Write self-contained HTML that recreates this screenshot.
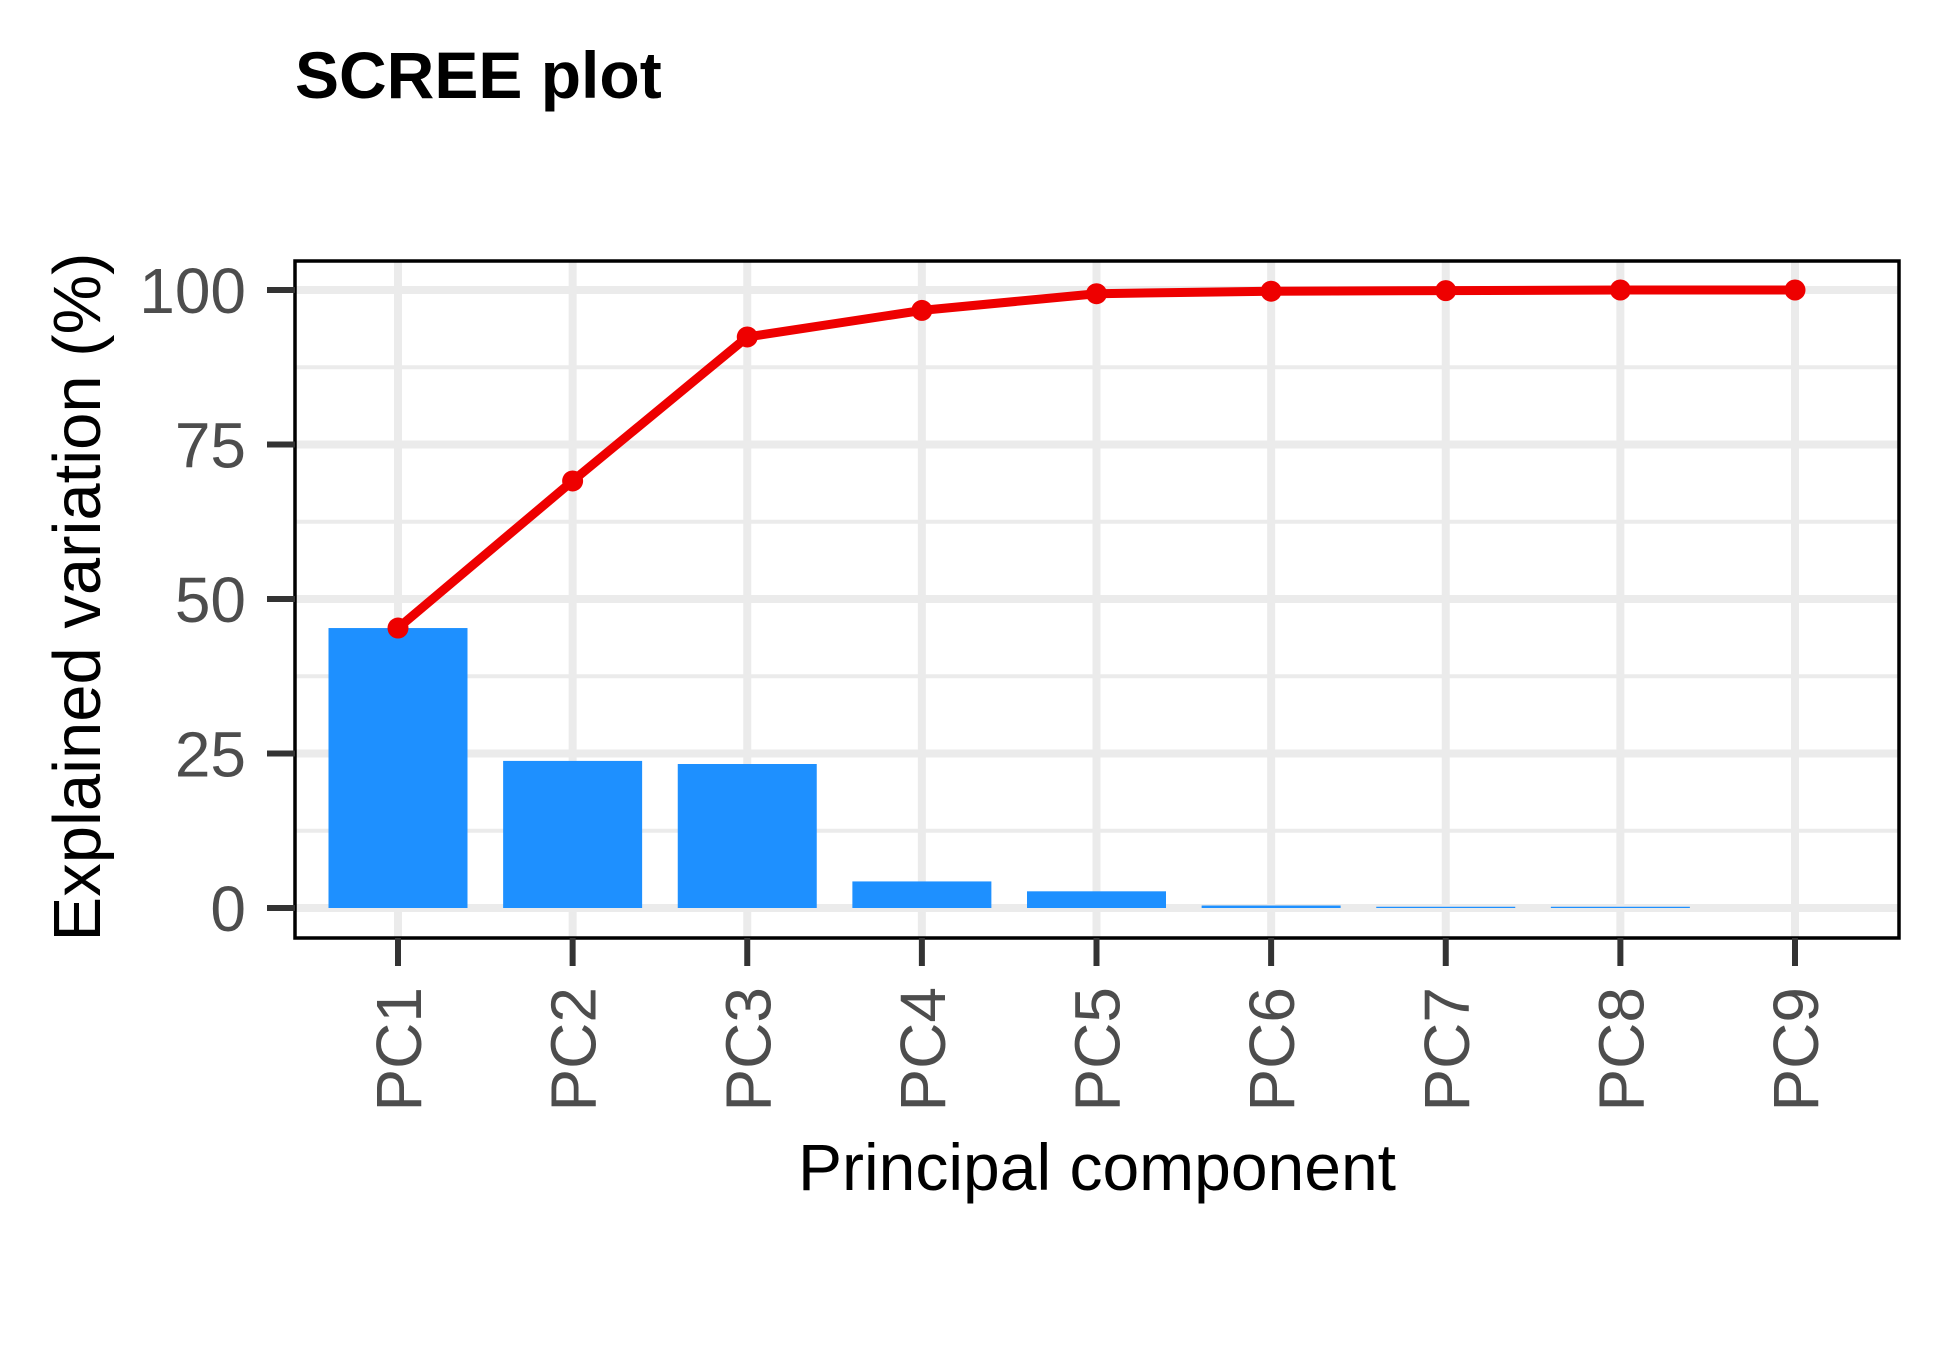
<!DOCTYPE html>
<html><head><meta charset="utf-8"><style>
html,body{margin:0;padding:0;background:#fff}
svg{display:block;font-family:"Liberation Sans",Arial,sans-serif}
</style></head><body>
<svg id="chart" width="1950" height="1349" viewBox="0 0 1950 1349">
<text x="295" y="98" font-size="66" font-weight="bold" fill="#000">SCREE plot</text>
<g id="grid"></g>
<g id="bars"></g>
<g id="line"></g>
<rect x="295" y="261" width="1604" height="677" fill="none" stroke="#000" stroke-width="3.5"/>
<g id="axes"></g>
<text x="1097" y="1190" font-size="66" text-anchor="middle" fill="#000">Principal component</text>
<text transform="translate(100,597) rotate(-90)" font-size="67" text-anchor="middle" fill="#000">Explained variation (%)</text>
</svg>
<script>
const categories = ["PC1","PC2","PC3","PC4","PC5","PC6","PC7","PC8","PC9"];
const variance = [45.3, 23.8, 23.3, 4.3, 2.7, 0.4, 0.2, 0.2, 0.0];
const cumulative = [45.3, 69.1, 92.4, 96.7, 99.4, 99.8, 99.9, 100, 100];
const yTicks = [0, 25, 50, 75, 100];
const yMinor = [12.5, 37.5, 62.5, 87.5];

const NS = "http://www.w3.org/2000/svg";
const PL = 295, PR = 1899, PT = 261, PB = 938;
const x0 = 398, x1 = 1795, yTop = 290, yBot = 908;
function xs(i){ return x0 + i * (x1 - x0) / (categories.length - 1); }
function ys(v){ return yBot - v * (yBot - yTop) / 100; }
const bw = 139;
function mk(tag, attrs, parent){ const e=document.createElementNS(NS,tag); for(const k in attrs) e.setAttribute(k,attrs[k]); parent.appendChild(e); return e; }
const grid=document.getElementById('grid'), bars=document.getElementById('bars'), line=document.getElementById('line'), axes=document.getElementById('axes');

yMinor.forEach(v=>{ const l=mk('line',{x1:PL,x2:PR,y1:ys(v),y2:ys(v),stroke:'#ebebeb','stroke-width':4},grid);

 });
yTicks.forEach(v=>{ const l=mk('line',{x1:PL,x2:PR,y1:ys(v),y2:ys(v),stroke:'#ebebeb','stroke-width':8},grid);


const t=mk('line',{x1:267,x2:PL,y1:ys(v),y2:ys(v),stroke:'#333','stroke-width':6},axes);


const tx=mk('text',{x:246,y:ys(v)+23,'font-size':64,'text-anchor':'end',fill:'#4d4d4d'},axes);
tx.textContent=v;

 });
categories.forEach((c,i)=>{ const x=xs(i);
const l=mk('line',{x1:x,x2:x,y1:PT,y2:PB,stroke:'#ebebeb','stroke-width':8},grid);


const t=mk('line',{x1:x,x2:x,y1:PB,y2:966,stroke:'#333','stroke-width':6},axes);


const tx=mk('text',{transform:`translate(${x+23},987) rotate(-90)`,'font-size':64,'text-anchor':'end',fill:'#4d4d4d'},axes);
tx.textContent=c;


const v=variance[i]; const h=yBot-ys(v);
const b=mk('rect',{x:x-bw/2,y:ys(v),width:bw,height:Math.max(h,0),fill:'#1e90ff'},bars);

 });
const pts=cumulative.map((v,i)=>xs(i)+','+ys(v)).join(' ');
const pl=mk('polyline',{points:pts,fill:'none',stroke:'#ee0000','stroke-width':9,'stroke-linejoin':'round'},line);


cumulative.forEach((v,i)=>{ const c=mk('circle',{cx:xs(i),cy:ys(v),r:10.5,fill:'#ee0000'},line);

 });
</script>
</body></html>
